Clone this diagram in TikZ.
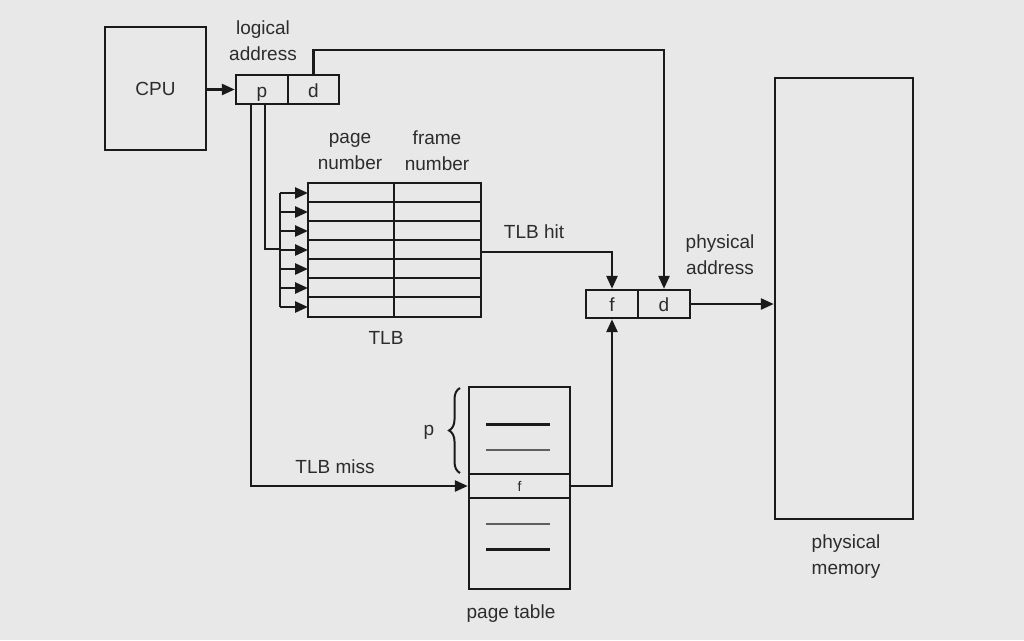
\documentclass[tikz,border=0pt]{standalone}
\usepackage{fontspec}
\setmainfont{Liberation Sans}
\usetikzlibrary{arrows.meta,decorations.pathreplacing}
\definecolor{bgc}{HTML}{E8E8E8}
\definecolor{linec}{HTML}{1A1A1A}
\definecolor{txtc}{HTML}{2C2C2C}
\begin{document}
\begin{tikzpicture}[x=1pt,y=-1pt,
  font=\fontsize{19}{26}\selectfont,
  box/.style={draw=linec,line width=2.4pt,inner sep=0pt,text=txtc},
  cell/.style={box,text height=15pt,text depth=0pt},
  lbl/.style={text=txtc,align=center,inner sep=0pt},
  wire/.style={draw=linec,line width=2.6pt,line join=miter},
  arr/.style={wire,-{Triangle[length=13pt,width=11pt]}},
  thin/.style={draw=linec,line width=2pt}]
% canvas
\fill[bgc] (0,0) rectangle (1024,640);
\useasboundingbox (0,0) rectangle (1024,640);

% CPU and the logical address register
\node[box,minimum width=101pt,minimum height=123pt] (cpu) at (155.5,88.5) {CPU};
\node[cell,minimum width=52pt,minimum height=29pt] (lp) at (262,89.5) {p};
\node[cell,minimum width=51pt,minimum height=29pt] (ld) at (313.5,89.5) {d};
\node[lbl] (lalbl) at (263,41) {logical\\address};
\draw[arr] (cpu.east |- lp.west) -- (lp.west);

% TLB
\node[box,minimum width=173pt,minimum height=134pt] (tlb) at (394.5,250) {};
\draw[thin] (394,183) -- (394,317);
\foreach \k in {1,...,6}
  \draw[thin] (308,183+19*\k) -- (481,183+19*\k);
\node[lbl] (pnlbl) at (350,151) {page\\number};
\node[lbl] (fnlbl) at (437,151) {frame\\number};
\node[lbl] (tlblbl) at (386,338) {TLB};

% comparison bus feeding every TLB entry
\coordinate (bustop) at (280,193);
\coordinate (busbot) at (280,307);
\draw[wire] (bustop) -- (busbot);
\foreach \k in {0,...,6}
  \draw[arr] (280,193+19*\k) -- (308,193+19*\k);
\draw[wire] ([xshift=3pt]lp.south) |- (280,249);

% physical address register
\node[cell,minimum width=52pt,minimum height=28pt] (pf) at (612,304) {f};
\node[cell,minimum width=52pt,minimum height=28pt] (pd) at (664,304) {d};
\node[lbl] (palbl) at (720,255) {physical\\address};

% physical memory
\node[box,minimum width=138pt,minimum height=441pt] (mem) at (844,298.5) {};
\node[lbl] (memlbl) at (846,557) {physical\\memory};

% page table
\node[box,minimum width=101pt,minimum height=202pt] (pt) at (519.5,488) {};
\node[box,minimum width=101pt,minimum height=24pt,font=\fontsize{14}{16}\selectfont] (ptf) at (519.5,486) {f};
\draw[line width=3pt,draw=linec] (486,424) -- (550,424);
\draw[line width=2.2pt,draw=linec!70] (486,450) -- (550,450);
\draw[line width=2.2pt,draw=linec!70] (486,524) -- (550,524);
\draw[line width=3pt,draw=linec] (486,549) -- (550,549);
\node[lbl] (ptlbl) at (511,614) {page table};
\draw[draw=linec,line width=2pt,decorate,decoration={brace,amplitude=11pt}]
  (460,473) -- (460,388);
\node[lbl] (plbl) at (429,432) {p};

% offset goes straight through
\coordinate (dtop) at (313.5,50);
\draw[arr] (ld.north) -- (dtop) -| (pd.north);

% TLB hit path
\draw[arr] ([yshift=-2pt]tlb.east) -| (pf.north);
\node[lbl] (hitlbl) at (534,232) {TLB hit};

% TLB miss path through the page table
\draw[arr] ([xshift=-11pt]lp.south) |- (ptf.west);
\node[lbl] (misslbl) at (335,467) {TLB miss};
\draw[arr] (ptf.east) -| (pf.south);

% physical address to memory
\draw[arr] (pd.east) -- (pd.east -| mem.west);
\end{tikzpicture}
\end{document}
